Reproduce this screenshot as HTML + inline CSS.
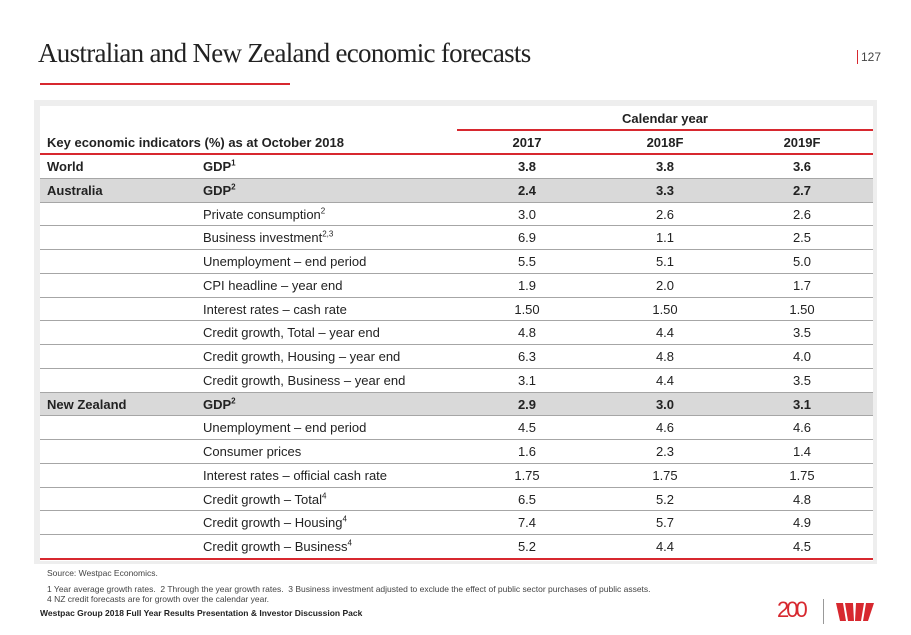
<!DOCTYPE html>
<html><head><meta charset="utf-8"><style>
body{margin:0;width:911px;height:635px;background:#fff;position:relative;overflow:hidden;font-family:"Liberation Sans",Arial,sans-serif;color:#222}
.a{position:absolute}
.row{position:absolute;left:40px;width:833px;height:23.76px;border-bottom:1px solid #a6a6a6;box-sizing:border-box;font-size:13px}
.row span{position:absolute;top:4px;line-height:16px}
.c1{left:7px}.c2{left:163px}
.v{width:80px;text-align:center}
.v1{left:447px}.v2{left:585px}.v3{left:722px}
.b{font-weight:bold}
.g{background:#d9d9d9}
sup{font-size:8px;line-height:0}
</style></head><body>
<div class="a" style="left:38px;top:38px;font-family:'Liberation Serif',serif;font-size:27px;color:#222;white-space:nowrap;letter-spacing:-0.7px">Australian and New Zealand economic forecasts</div>
<div class="a" style="left:40px;top:83px;width:250px;height:2px;background:#d7282f"></div>
<div class="a" style="left:857px;top:50px;border-left:1px solid #d7282f;padding-left:3px;font-size:12px;line-height:14px;color:#444">127</div>
<div class="a" style="left:34px;top:100px;width:843px;height:464px;background:#eeeeee"></div>
<div class="a" style="left:40px;top:106px;width:833px;height:455px;background:#fff"></div>
<div class="a b" style="left:457px;top:111px;width:416px;text-align:center;font-size:13px">Calendar year</div>
<div class="a" style="left:457px;top:129px;width:416px;height:2px;background:#d7282f"></div>
<div class="a b" style="left:47px;top:135px;font-size:13px">Key economic indicators (%) as at October 2018</div>
<div class="a b" style="left:487px;top:135px;width:80px;text-align:center;font-size:13px">2017</div>
<div class="a b" style="left:625px;top:135px;width:80px;text-align:center;font-size:13px">2018F</div>
<div class="a b" style="left:762px;top:135px;width:80px;text-align:center;font-size:13px">2019F</div>
<div class="a" style="left:40px;top:153px;width:833px;height:2px;background:#d7282f"></div>
<div id="rows"></div>
<div class="a" style="left:40px;top:558px;width:833px;height:2px;background:#d7282f"></div>
<div class="a" style="left:47px;top:568px;font-size:8.5px;color:#444">Source: Westpac Economics.</div>
<div class="a" style="left:47px;top:584px;font-size:8.5px;line-height:10px;color:#444">1 Year average growth rates.&nbsp; 2 Through the year growth rates.&nbsp; 3 Business investment adjusted to exclude the effect of public sector purchases of public assets.<br>4 NZ credit forecasts are for growth over the calendar year.</div>
<div class="a b" style="left:40px;top:608px;font-size:8.5px;color:#222">Westpac Group 2018 Full Year Results Presentation &amp; Investor Discussion Pack</div>
<div class="a" style="left:777px;top:597px;font-size:22px;color:#d7282f;letter-spacing:-3px;font-weight:normal">200</div>
<div class="a" style="left:823px;top:599px;width:1px;height:25px;background:#999"></div>
<svg class="a" style="left:836px;top:603px" width="38" height="18" viewBox="0 0 38 18"><path d="M0 0h7l3 18h-6zM9 0h8l1 18h-6zM20 0h8l-3 18h-6zM30 0h8l-6 18h-5z" fill="#d7282f"/></svg>
<script>
const labels1=["World","Australia","","","","","","","","","New Zealand","","","","","",""];
const labels2=["GDP<sup>1</sup>","GDP<sup>2</sup>","Private consumption<sup>2</sup>","Business investment<sup>2,3</sup>","Unemployment – end period","CPI headline – year end","Interest rates – cash rate","Credit growth, Total – year end","Credit growth, Housing – year end","Credit growth, Business – year end","GDP<sup>2</sup>","Unemployment – end period","Consumer prices","Interest rates – official cash rate","Credit growth – Total<sup>4</sup>","Credit growth – Housing<sup>4</sup>","Credit growth – Business<sup>4</sup>"];
const v2017=["3.8","2.4","3.0","6.9","5.5","1.9","1.50","4.8","6.3","3.1","2.9","4.5","1.6","1.75","6.5","7.4","5.2"];
const v2018=["3.8","3.3","2.6","1.1","5.1","2.0","1.50","4.4","4.8","4.4","3.0","4.6","2.3","1.75","5.2","5.7","4.4"];
const v2019=["3.6","2.7","2.6","2.5","5.0","1.7","1.50","3.5","4.0","3.5","3.1","4.6","1.4","1.75","4.8","4.9","4.5"];
const boldRows=[0,1,10],grayRows=[1,10];
const host=document.getElementById('rows');
labels2.forEach((l,i)=>{
  const r=document.createElement('div');
  r.className='row'+(grayRows.includes(i)?' g':'')+(boldRows.includes(i)?' b':'');
  r.style.top=(155+i*23.76)+'px';
  if(i===labels2.length-1) r.style.borderBottom='none';
  
  
  r.innerHTML='<span class="c1">'+labels1[i]+'</span><span class="c2">'+l+'</span><span class="v v1">'+v2017[i]+'</span><span class="v v2">'+v2018[i]+'</span><span class="v v3">'+v2019[i]+'</span>';
  host.appendChild(r);
});
</script>
</body></html>
